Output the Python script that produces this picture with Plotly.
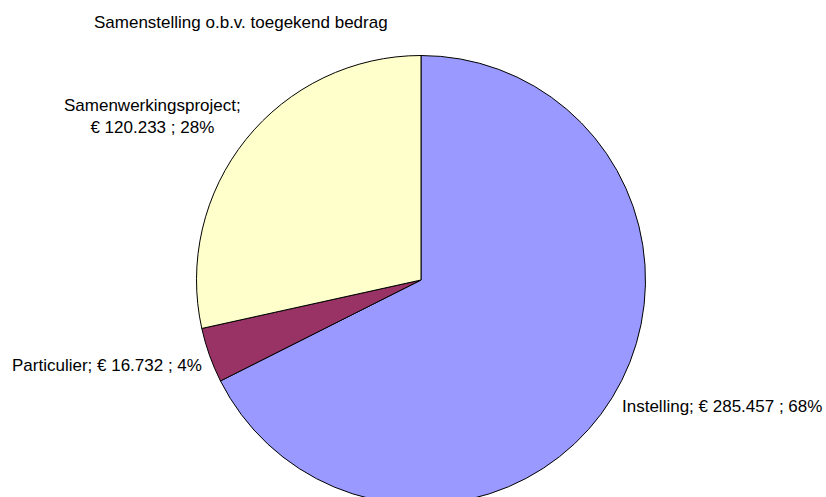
import plotly.graph_objects as go

categories = ["Instelling", "Particulier", "Samenwerkingsproject"]
values = [285457, 16732, 120233]
colors = ["#9999FF", "#993366", "#FFFFCC"]
title_text = "Samenstelling o.b.v. toegekend bedrag"

W, H = 826, 560
total = sum(values)


def fmt(v):
    return f"{v:,}".replace(",", ".")


label_parts = [
    (f"{c};", f"€ {fmt(v)} ; {round(v / total * 100)}%") for c, v in zip(categories, values)
]

fig = go.Figure(
    go.Pie(
        labels=categories,
        values=values,
        sort=False,
        direction="clockwise",
        rotation=0,
        marker=dict(colors=colors, line=dict(color="#000000", width=1)),
        textinfo="none",
        hoverinfo="label+value+percent",
        domain=dict(x=[(421 - 224.5) / W, (421 + 224.5) / W],
                    y=[(H - 504.5) / H, (H - 55.5) / H]),
        showlegend=False,
    )
)

font = dict(family="Liberation Sans, Arial, sans-serif", size=17, color="#000000")


def ann(x, y, text, xanchor="left"):
    return dict(x=x / W, y=1 - y / H, xref="paper", yref="paper", text=text,
                showarrow=False, xanchor=xanchor, yanchor="middle", align="center",
                font=font, borderpad=0)


anns = []
for c, (a, b) in zip(categories, label_parts):
    if c == "Samenwerkingsproject":
        anns.append(ann(152, 116, f"{a}<br>{b}", "center"))
    elif c == "Instelling":
        anns.append(ann(621, 406, f"{a} {b}"))
    else:
        anns.append(ann(11, 365, f"{a} {b}"))
anns.append(ann(240.5, 23, title_text, "center"))

fig.update_layout(
    width=W, height=H,
    margin=dict(l=0, r=0, t=0, b=0),
    paper_bgcolor="#FFFFFF",
    plot_bgcolor="#FFFFFF",
    annotations=anns,
)

fig.write_html(
    "out.html",
    config={"displayModeBar": False},
    post_script="document.body.style.margin='0';document.body.style.overflow='hidden';document.documentElement.style.overflow='hidden';",
)
